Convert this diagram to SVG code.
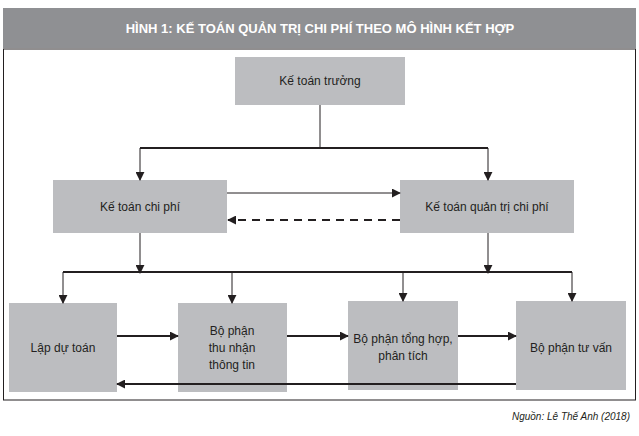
<svg xmlns="http://www.w3.org/2000/svg" width="639" height="436" viewBox="0 0 639 436">
<defs>
<style>
.b{fill:#bcbdc0}
.t{font-family:"Liberation Sans Narrow","Liberation Sans",Arial,sans-serif;font-size:12px;fill:#231f20;text-anchor:middle}
.l{stroke:#231f20;stroke-width:2;fill:none}
.th{stroke:#231f20;stroke-width:1;fill:none}
.m{marker-end:url(#a)}
</style>
<marker id="a" viewBox="0 0 10 10" refX="9" refY="5" markerUnits="userSpaceOnUse" markerWidth="9" markerHeight="9" orient="auto"><path d="M0,0L10,5L0,10z" fill="#231f20"/></marker>
</defs>
<rect width="639" height="436" fill="#fff"/>
<rect x="3" y="8" width="633" height="40" fill="#8f9093"/>
<text x="320" y="33" font-family="Liberation Sans,Arial,sans-serif" font-size="13" font-weight="bold" fill="#fff" text-anchor="middle">HÌNH 1: KẾ TOÁN QUẢN TRỊ CHI PHÍ THEO MÔ HÌNH KẾT HỢP</text>
<rect x="3.5" y="49" width="632" height="351" fill="none" stroke="#231f20" stroke-width="1"/>
<g id="n1"><rect class="b" x="235" y="57" width="170" height="48"/><text class="t" x="320" y="85">Kế toán trưởng</text></g>
<g id="n2"><rect class="b" x="53" y="180" width="174" height="53"/><text class="t" x="140" y="211">Kế toán chi phí</text></g>
<g id="n3"><rect class="b" x="400" y="180" width="174" height="53"/><text class="t" x="487" y="211">Kế toán quản trị chi phí</text></g>
<g id="n4"><rect class="b" x="9" y="303" width="108" height="89"/><text class="t" x="63" y="352">Lập dự toán</text></g>
<g id="n5"><rect class="b" x="178" y="303" width="109" height="89"/><text class="t" x="232" y="335">Bộ phận</text><text class="t" x="232" y="352">thu nhận</text><text class="t" x="232" y="369">thông tin</text></g>
<g id="n6"><rect class="b" x="348" y="301" width="110" height="89"/><text class="t" x="403" y="343">Bộ phận tổng hợp,</text><text class="t" x="403" y="360">phân tích</text></g>
<g id="n7"><rect class="b" x="516" y="301" width="110" height="89"/><text class="t" x="571" y="352">Bộ phận tư vấn</text></g>
<g id="edges">
<path class="th" d="M320 105V148"/>
<path class="l" d="M140 148H488"/>
<path class="th m" d="M140 148V180"/>
<path class="th m" d="M488 148V180"/>
<path class="th m" d="M227 193H400"/>
<path class="l m" d="M400 220H228" stroke-dasharray="8 6"/>
<path class="th m" d="M140 233V273"/>
<path class="th m" d="M488 233V273"/>
<path class="l" d="M63 272H572"/>
<path class="th m" d="M63 272V303"/>
<path class="th m" d="M232 272V303"/>
<path class="th m" d="M403 272V301"/>
<path class="th m" d="M572 272V301"/>
<path class="l m" d="M117 336H178"/>
<path class="l m" d="M287 336H348"/>
<path class="l m" d="M458 336H516"/>
<path class="l m" d="M516 384H117"/>
</g>
<text x="630" y="420" font-family="Liberation Sans,Arial,sans-serif" font-size="10" font-style="italic" fill="#231f20" text-anchor="end">Nguồn: Lê Thế Anh (2018)</text>
</svg>
